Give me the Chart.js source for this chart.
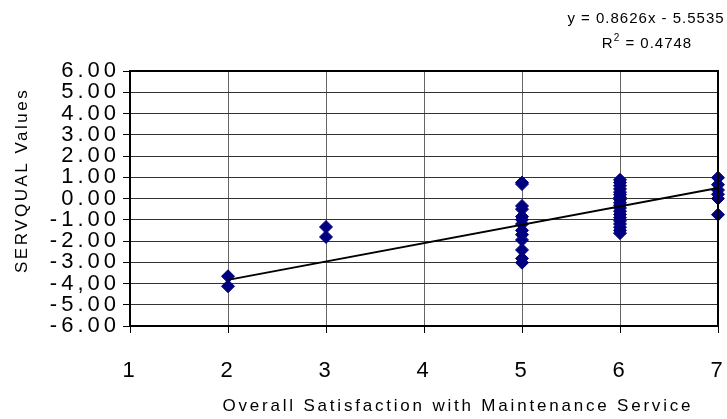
<!DOCTYPE html>
<html><head><meta charset="utf-8">
<script src="https://cdn.jsdelivr.net/npm/chart.js@4"></script>
<style>html,body{margin:0;padding:0;background:#fff;overflow:hidden}#wrap{width:727px;height:419px}</style>
</head><body><div id="wrap"><canvas id="c" width="727" height="419"></canvas></div>
<script>
// ---- data ----
const satX2 = [2, 2];
const servY2 = [-3.66, -4.13];
const satX3 = [3, 3];
const servY3 = [-1.34, -1.81];
const satX5 = [5, 5, 5, 5, 5, 5, 5, 5, 5, 5, 5, 5, 5];
const servY5 = [0.75, 0.68, -0.35, -0.5, -0.85, -1.0, -1.2, -1.5, -1.7, -1.95, -2.42, -2.82, -3.02];
const satX6 = [6, 6, 6, 6, 6, 6, 6, 6, 6, 6, 6, 6, 6, 6, 6, 6, 6, 6, 6];
const servY6 = [0.88, 0.75, 0.6, 0.45, 0.3, 0.18, 0.05, -0.05, -0.2, -0.32, -0.45, -0.6, -0.75, -0.9, -1.05, -1.2, -1.35, -1.5, -1.63];
const satX7 = [7, 7, 7, 7, 7, 7];
const servY7 = [0.98, 0.65, 0.4, 0.2, 0.0, -0.76];
const trendX = [2, 7];
const trendY = [-3.83, 0.49];
const xTickLabels = ['1', '2', '3', '4', '5', '6', '7'];
const yTickValues = [6, 5, 4, 3, 2, 1, 0, -1, -2, -3, -4, -5, -6];
const yTickLabels = ['6.00', '5.00', '4.00', '3.00', '2.00', '1.00', '0.00', '-1.00', '-2.00', '-3.00', '-4,00', '-5.00', '-6.00'];
const equationText = 'y = 0.8626x - 5.5535';
const r2Value = '0.4748';
const xTitle = 'Overall Satisfaction with Maintenance Service';
const yTitle = 'SERVQUAL Values';

const pts = [];
[[satX2, servY2], [satX3, servY3], [satX5, servY5], [satX6, servY6], [satX7, servY7]].forEach(([xs, ys]) => {
  xs.forEach((x, i) => pts.push({x: x, y: ys[i]}));
});
const trendPts = trendX.map((x, i) => ({x: x, y: trendY[i]}));

const FONT = "'Liberation Sans', Arial, sans-serif";
const LABEL_LS = { x: '3px', y: '4px' };
const TITLE_LS = { x: '2.8px', y: '2.5px' };

// Wide (stretched-looking) text like the original, via canvas letter spacing
const spacingPlugin = {
  id: 'spacing',
  beforeDraw(chart) {
    Object.values(chart.scales).forEach((s) => {
      if (s._lsWrapped) return;
      s._lsWrapped = true;
      const dl = s.drawLabels.bind(s), dt = s.drawTitle.bind(s);
      s.drawLabels = function (a) { const c = this.ctx; const o = c.letterSpacing; c.letterSpacing = LABEL_LS[this.id] || '0px'; dl(a); c.letterSpacing = o; };
      s.drawTitle = function (a) { const c = this.ctx; const o = c.letterSpacing; c.letterSpacing = TITLE_LS[this.id] || '0px'; dt(a); c.letterSpacing = o; };
    });
  }
};

const frameAndEq = {
  id: 'frameAndEq',
  afterDraw(chart) {
    const ctx = chart.ctx, a = chart.chartArea;
    ctx.save();
    ctx.strokeStyle = '#000';
    ctx.lineWidth = 2;
    ctx.strokeRect(a.left, a.top, a.right - a.left, a.bottom - a.top);
    ctx.fillStyle = '#000';
    ctx.letterSpacing = '1px';
    ctx.textBaseline = 'middle';
    ctx.textAlign = 'center';
    ctx.font = '15px ' + FONT;
    ctx.fillText(equationText, 646, 19);
    const p1 = 'R', p2 = '2', p3 = ' = ' + r2Value;
    ctx.textAlign = 'left';
    const w1 = ctx.measureText(p1).width, w3 = ctx.measureText(p3).width;
    ctx.font = '10px ' + FONT;
    const w2 = ctx.measureText(p2).width;
    let x = 647 - (w1 + w2 + w3) / 2;
    ctx.font = '15px ' + FONT;
    ctx.fillText(p1, x, 44);
    x += w1;
    ctx.font = '10px ' + FONT;
    ctx.fillText(p2, x, 38);
    x += w2;
    ctx.font = '15px ' + FONT;
    ctx.fillText(p3, x, 44);
    ctx.restore();
  }
};

new Chart(document.getElementById('c'), {
  data: {
    datasets: [
      {
        type: 'line',
        data: trendPts,
        borderColor: '#000',
        borderWidth: 2,
        pointRadius: 0,
        fill: false,
        order: 0
      },
      {
        type: 'scatter',
        data: pts,
        pointStyle: 'rectRot',
        pointRadius: 6.5,
        pointBorderWidth: 1,
        backgroundColor: '#000080',
        borderColor: '#000080',
        clip: false,
        order: 1
      }
    ]
  },
  options: {
    responsive: false,
    animation: false,
    devicePixelRatio: 1,
    layout: { autoPadding: false, padding: { top: 71, right: 9, left: 0, bottom: 0 } },
    plugins: { legend: { display: false }, tooltip: { enabled: false } },
    scales: {
      x: {
        type: 'linear',
        min: 1, max: 7,
        afterFit(s) { s.height = 93; s.paddingLeft = 0; s.paddingRight = 0; },
        border: { display: false },
        grid: { color: '#666', lineWidth: 1, tickLength: 7, tickColor: '#000' },
        ticks: {
          stepSize: 1, autoSkip: false, maxRotation: 0, padding: 25,
          color: '#000', font: { family: FONT, size: 22 },
          callback: (v) => xTickLabels[Math.round(v) - 1]
        },
        title: {
          display: true, text: '         ' + xTitle, color: '#000',
          font: { family: FONT, size: 17 }, padding: { top: 0, bottom: 2 }
        }
      },
      y: {
        type: 'linear',
        min: -6, max: 6,
        afterFit(s) { s.width = 130; s.paddingTop = 0; s.paddingBottom = 0; },
        border: { display: false },
        grid: { color: '#333', lineWidth: 1, tickLength: 7, tickColor: '#000' },
        ticks: {
          stepSize: 1, autoSkip: false, padding: 3,
          color: '#000', font: { family: FONT, size: 22 },
          callback: (v) => yTickLabels[yTickValues.indexOf(Math.round(v))]
        },
        title: {
          display: true, text: '     ' + yTitle, color: '#000',
          font: { family: FONT, size: 17 }, padding: { top: 12, bottom: 0 }
        }
      }
    }
  },
  plugins: [spacingPlugin, frameAndEq]
});
</script>
</body></html>
